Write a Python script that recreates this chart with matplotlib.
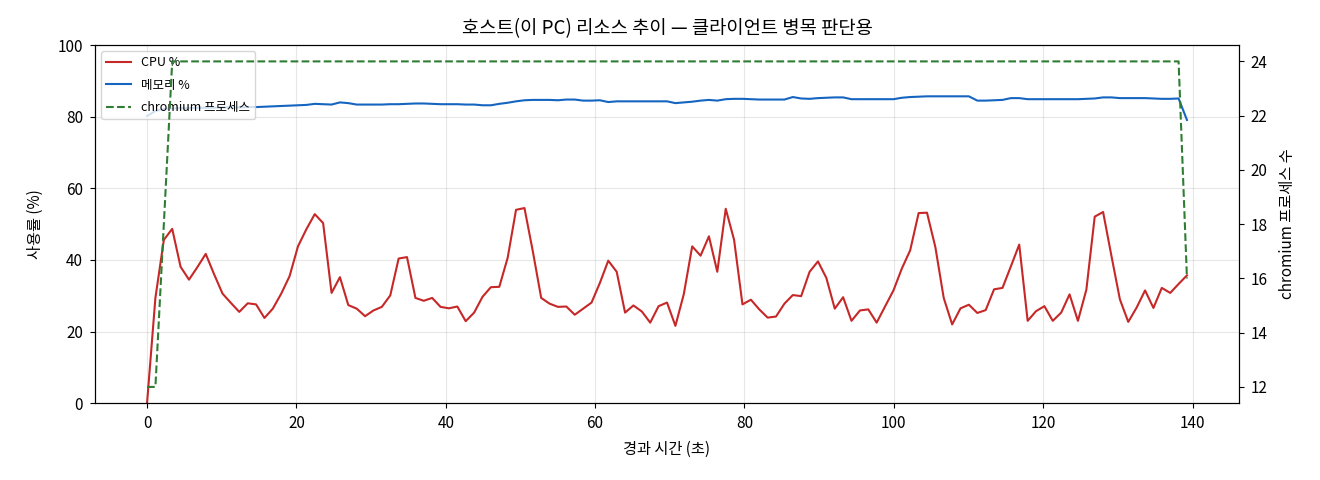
import numpy as np
import matplotlib
matplotlib.use("Agg")
from matplotlib import pyplot as plt

plt.rcParams['font.family'] = ['Noto Sans CJK KR', 'DejaVu Sans']
plt.rcParams['axes.unicode_minus'] = False

# sampled host metrics (about one sample every 1.12 s)
cpu = [0.0, 29.4, 45.6, 48.7, 38.1, 34.5, 38.0, 41.7, 36.0, 30.6,
       28.0, 25.5, 27.9, 27.6, 23.8, 26.4, 30.6, 35.5, 43.8, 48.6,
       52.8, 50.3, 30.8, 35.2, 27.4, 26.4, 24.3, 25.9, 26.9, 30.1,
       40.4, 40.8, 29.4, 28.6, 29.4, 26.9, 26.5, 27.0, 22.9, 25.3,
       29.7, 32.4, 32.5, 40.6, 54.0, 54.5, 42.4, 29.4, 27.8, 26.9,
       27.0, 24.7, 26.4, 28.1, 33.6, 39.8, 36.7, 25.3, 27.3, 25.6,
       22.5, 27.1, 28.1, 21.6, 30.4, 43.8, 41.2, 46.6, 36.7, 54.3,
       45.6, 27.6, 28.9, 26.2, 23.9, 24.2, 27.8, 30.2, 29.9, 36.7,
       39.6, 35.0, 26.4, 29.6, 23.0, 25.9, 26.2, 22.5, 27.0, 31.5,
       37.6, 42.7, 53.1, 53.2, 43.6, 29.4, 22.0, 26.5, 27.5, 25.2,
       26.0, 31.8, 32.2, 38.2, 44.3, 23.0, 25.7, 27.1, 23.0, 25.3,
       30.4, 23.0, 31.7, 52.1, 53.4, 41.0, 29.0, 22.7, 26.7, 31.5,
       26.6, 32.2, 30.8, 33.3, 35.7]

mem = [80.2, 81.6, 82.2, 82.3, 82.4, 82.4, 82.5, 82.5, 82.5, 82.6,
       82.6, 82.6, 82.7, 82.7, 82.8, 82.9, 83.0, 83.1, 83.2, 83.3,
       83.6, 83.5, 83.4, 84.0, 83.8, 83.4, 83.4, 83.4, 83.4, 83.5,
       83.5, 83.6, 83.7, 83.7, 83.6, 83.5, 83.5, 83.5, 83.4, 83.4,
       83.2, 83.2, 83.6, 83.9, 84.3, 84.6, 84.7, 84.7, 84.7, 84.6,
       84.8, 84.8, 84.5, 84.5, 84.6, 84.1, 84.3, 84.3, 84.3, 84.3,
       84.3, 84.3, 84.3, 83.8, 84.0, 84.2, 84.5, 84.7, 84.5, 84.9,
       85.0, 85.0, 84.9, 84.8, 84.8, 84.8, 84.8, 85.5, 85.1, 85.0,
       85.2, 85.3, 85.4, 85.4, 84.9, 84.9, 84.9, 84.9, 84.9, 84.9,
       85.3, 85.5, 85.6, 85.7, 85.7, 85.7, 85.7, 85.7, 85.7, 84.5,
       84.5, 84.6, 84.7, 85.2, 85.2, 84.9, 84.9, 84.9, 84.9, 84.9,
       84.9, 84.9, 85.0, 85.1, 85.4, 85.4, 85.2, 85.2, 85.2, 85.2,
       85.1, 85.0, 85.0, 85.1, 79.1]

procs = [12, 12, 18] + [24] * 121 + [16]

elapsed = np.round(np.arange(len(cpu)) * 1.123, 2)

fig, ax1 = plt.subplots(figsize=(13.2, 4.8), dpi=100)
fig.subplots_adjust(left=0.072, right=0.9386, bottom=0.16, top=0.906)

l1, = ax1.plot(elapsed, cpu, color='#c62828', lw=1.5, label='CPU %')
l2, = ax1.plot(elapsed, mem, color='#1565c0', lw=1.5, label='메모리 %')
ax1.set_ylim(0, 100)
ax1.set_xlabel('경과 시간 (초)', fontsize=11, labelpad=6)
ax1.set_ylabel('사용률 (%)', fontsize=11, labelpad=10)
ax1.tick_params(labelsize=11, pad=5)
ax1.grid(alpha=0.3)

ax2 = ax1.twinx()
l3, = ax2.plot(elapsed, procs, color='#2e7d32', lw=1.5, ls='--', label='chromium 프로세스')
ax2.set_ylabel('chromium 프로세스 수', fontsize=11, labelpad=8)
ax2.tick_params(labelsize=11, pad=5)

ax1.legend(handles=[l1, l2, l3], loc='upper left', fontsize=9, labelspacing=0.75)
ax1.set_title('호스트(이 PC) 리소스 추이 — 클라이언트 병목 판단용', fontsize=13.5, pad=8)

fig.savefig('out.png', dpi=100)
